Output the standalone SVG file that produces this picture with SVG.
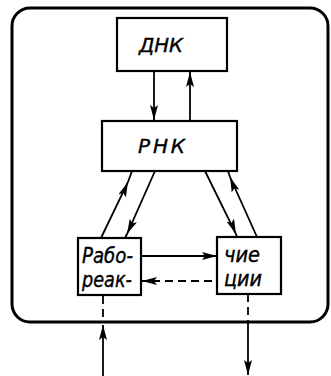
<svg xmlns="http://www.w3.org/2000/svg" width="331" height="376" viewBox="0 0 331 376">
<defs>
<marker id="ah" viewBox="0 0 15 8" refX="15" refY="4" markerWidth="15" markerHeight="8" markerUnits="userSpaceOnUse" orient="auto">
<path d="M0,0 L15,4 L0,8 L3,4 z" fill="#000"/>
</marker>
<style>
.box{fill:#fff;stroke:#000;stroke-width:2.2}
.lbl{font-family:"DejaVu Sans","Liberation Sans",sans-serif;font-style:oblique;fill:#000;stroke:#000;stroke-width:0.4}
.ln{fill:none;stroke:#000;stroke-width:1.8}
.dash{stroke-dasharray:8 5}
</style>
</defs>
<rect x="12" y="8" width="316" height="314" rx="18" ry="18" fill="none" stroke="#000" stroke-width="3"/>
<g id="connectors">
<line class="ln" x1="154" y1="72" x2="154" y2="120" marker-end="url(#ah)"/>
<line class="ln" x1="190" y1="120" x2="190" y2="72" marker-end="url(#ah)"/>
<path class="ln" d="M101,238 L128,182 L132,171" marker-mid="url(#ah)"/>
<path class="ln" d="M155,171 L127,234 L125,238" marker-mid="url(#ah)"/>
<path class="ln" d="M205,171 L236,234 L237,237" marker-mid="url(#ah)"/>
<path class="ln" d="M257,237 L230,177 L228,171" marker-mid="url(#ah)"/>
<line class="ln" x1="141" y1="256" x2="217" y2="256" marker-end="url(#ah)"/>
<line class="ln dash" x1="212" y1="281" x2="142" y2="281" marker-end="url(#ah)"/>
<line class="ln dash" x1="103" y1="296" x2="103" y2="322" stroke-dasharray="6 4"/>
<line class="ln" x1="103" y1="376" x2="103" y2="325" marker-end="url(#ah)"/>
<line class="ln dash" x1="248" y1="294" x2="248" y2="322" stroke-dasharray="6 4"/>
<line class="ln" x1="248" y1="322" x2="248" y2="375" marker-end="url(#ah)"/>
</g>
<g id="dna">
<rect class="box" x="117" y="18" width="110" height="53"/>
<text class="lbl" x="139" y="52" font-size="20" textLength="44" lengthAdjust="spacingAndGlyphs">ДНК</text>
</g>
<g id="rna">
<rect class="box" x="102" y="121" width="135" height="50"/>
<text class="lbl" x="138" y="153" font-size="20" textLength="47" lengthAdjust="spacing">РНК</text>
</g>
<g id="left">
<rect class="box" x="78" y="238" width="63" height="57"/>
<text class="lbl" x="82" y="263" font-size="21" textLength="51" lengthAdjust="spacingAndGlyphs">Рабо-</text>
<text class="lbl" x="82" y="287" font-size="21" textLength="50" lengthAdjust="spacingAndGlyphs">реак-</text>
</g>
<g id="right">
<rect class="box" x="217" y="237" width="64" height="57"/>
<text class="lbl" x="224" y="262" font-size="21" textLength="36" lengthAdjust="spacingAndGlyphs">чие</text>
<text class="lbl" x="224" y="286" font-size="21" textLength="38" lengthAdjust="spacingAndGlyphs">ции</text>
</g>
</svg>
